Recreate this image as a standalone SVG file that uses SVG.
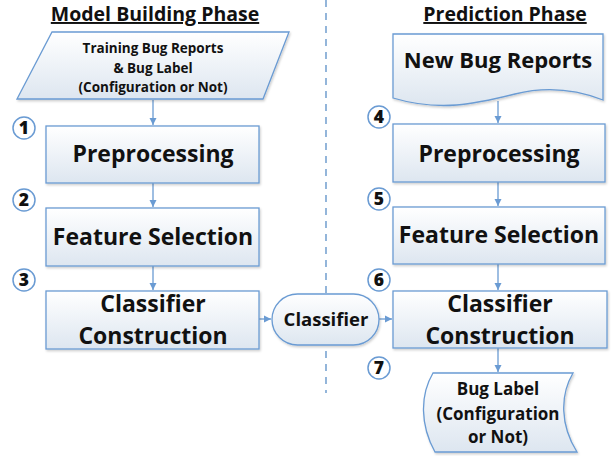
<svg xmlns="http://www.w3.org/2000/svg" width="611" height="456" viewBox="0 0 611 456">
<style>
text{font-family:"Open Sans","Noto Sans","Liberation Sans",sans-serif;font-weight:bold;fill:#111;text-anchor:middle}
.shape{fill:url(#g);stroke:#6a9bd3;stroke-width:1.3;filter:url(#sh)}
.conn{stroke:#6a9bd3;stroke-width:1.3;fill:none;marker-end:url(#ah)}
.num circle{fill:#fff;stroke:#6a9bd3;stroke-width:1.5}
.num text{font-size:17.5px;font-weight:800}
.big{font-size:23px}
.title{font-size:19.5px;text-decoration:underline}
</style>
<defs>
<linearGradient id="g" x1="0" y1="0" x2="0" y2="1">
<stop offset="0" stop-color="#ffffff"/>
<stop offset="1" stop-color="#dde6f0"/>
</linearGradient>
<filter id="sh" x="-10%" y="-10%" width="120%" height="130%">
<feDropShadow dx="1" dy="1.5" stdDeviation="1" flood-color="#000" flood-opacity="0.2"/>
</filter>
<marker id="ah" markerWidth="8" markerHeight="8" refX="7" refY="4" orient="auto" markerUnits="userSpaceOnUse">
<path d="M0,0.5 L7,4 L0,7.5 Z" fill="#6a9bd3"/>
</marker>
</defs>
<rect width="611" height="456" fill="#fff"/>
<line x1="326" y1="0" x2="326" y2="393" stroke="#5b8fc7" stroke-width="1.3" stroke-dasharray="7,6"/>
<text class="title" x="155" y="21">Model Building Phase</text>
<text class="title" x="505" y="21">Prediction Phase</text>
<g id="connectors">
<line class="conn" x1="153" y1="100" x2="153" y2="125"/>
<line class="conn" x1="153" y1="183" x2="153" y2="207"/>
<line class="conn" x1="153" y1="266" x2="153" y2="290"/>
<line class="conn" x1="259" y1="319" x2="271" y2="319"/>
<line class="conn" x1="379" y1="319" x2="392" y2="319"/>
<line class="conn" x1="498" y1="101" x2="498" y2="123"/>
<line class="conn" x1="498" y1="182" x2="498" y2="206"/>
<line class="conn" x1="498" y1="264" x2="498" y2="290"/>
<line class="conn" x1="498" y1="348" x2="498" y2="372"/>
</g>
<g id="training">
<path class="shape" d="M52,32 H289 L263,99 H17 Z"/>
<text x="153" y="53" font-size="13.5">Training Bug Reports</text>
<text x="153" y="73" font-size="13.5">&amp; Bug Label</text>
<text x="153" y="92" font-size="13.5">(Configuration or Not)</text>
</g>
<g id="prep1">
<rect class="shape" x="46" y="126" width="213" height="57"/>
<text class="big" x="153" y="162">Preprocessing</text>
</g>
<g id="feat1">
<rect class="shape" x="46" y="208" width="213" height="58"/>
<text class="big" x="153" y="245">Feature Selection</text>
</g>
<g id="cc1">
<rect class="shape" x="46" y="291" width="213" height="58"/>
<text class="big" x="153" y="312">Classifier</text>
<text class="big" x="153" y="344">Construction</text>
</g>
<g id="classifier">
<rect class="shape" x="272" y="294" width="107" height="51" rx="25.5"/>
<text x="326" y="326" font-size="18.5">Classifier</text>
</g>
<g id="newbug">
<path class="shape" d="M393,34 H603 V100 C585,93 555,84 515,94 C475,104 440,112 393,98 Z"/>
<text x="498" y="68" font-size="22">New Bug Reports</text>
</g>
<g id="prep2">
<rect class="shape" x="393" y="124" width="212" height="58"/>
<text class="big" x="499" y="162">Preprocessing</text>
</g>
<g id="feat2">
<rect class="shape" x="393" y="207" width="212" height="57"/>
<text class="big" x="499" y="243">Feature Selection</text>
</g>
<g id="cc2">
<rect class="shape" x="393" y="291" width="214" height="57"/>
<text class="big" x="500" y="312">Classifier</text>
<text class="big" x="500" y="344">Construction</text>
</g>
<g id="buglabel">
<path class="shape" d="M433,373 H573 C560,395 560,425 577,452 H435 C420,425 420,395 433,373 Z"/>
<text x="498" y="395" font-size="17">Bug Label</text>
<text x="498" y="420" font-size="17">(Configuration</text>
<text x="498" y="443" font-size="17">or Not)</text>
</g>
<g id="n1" class="num"><circle cx="24" cy="128" r="11"/><text x="24" y="134">1</text></g>
<g id="n2" class="num"><circle cx="24" cy="200" r="11"/><text x="24" y="206">2</text></g>
<g id="n3" class="num"><circle cx="24" cy="280" r="11"/><text x="24" y="286">3</text></g>
<g id="n4" class="num"><circle cx="379" cy="117" r="11"/><text x="379" y="123">4</text></g>
<g id="n5" class="num"><circle cx="379" cy="199" r="11"/><text x="379" y="205">5</text></g>
<g id="n6" class="num"><circle cx="379" cy="280" r="11"/><text x="379" y="286">6</text></g>
<g id="n7" class="num"><circle cx="379" cy="368" r="11"/><text x="379" y="374">7</text></g>
</svg>
